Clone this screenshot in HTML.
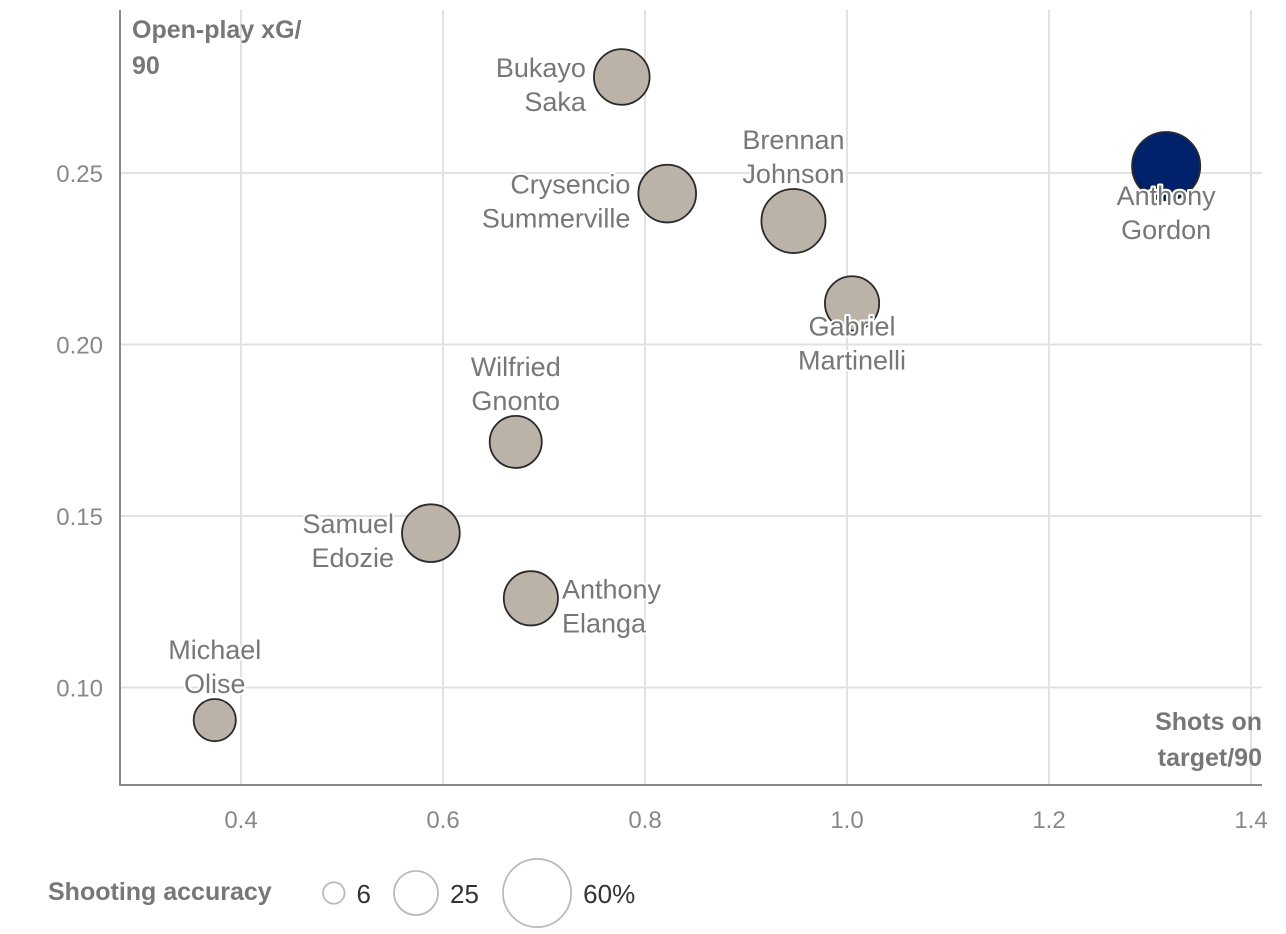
<!DOCTYPE html>
<html><head><meta charset="utf-8">
<style>
body{margin:0;background:#fff;}
svg{display:block;font-family:"Liberation Sans",sans-serif;}
.lbl{font-size:27px;fill:#777;stroke:#fff;stroke-width:4px;paint-order:stroke;stroke-linejoin:round;}
.tick{font-size:24px;fill:#888;}
.ttl{font-size:25px;fill:#777;font-weight:bold;}
</style></head>
<body>
<svg id="chart" width="1286" height="934" viewBox="0 0 1286 934"></svg>
<script>
const players=["Bukayo|Saka","Crysencio|Summerville","Brennan|Johnson","Gabriel|Martinelli","Anthony|Gordon","Wilfried|Gnonto","Samuel|Edozie","Anthony|Elanga","Michael|Olise"];
const shotsOnTarget=[0.777,0.822,0.947,1.005,1.316,0.672,0.588,0.687,0.374];
const openPlayXG=[0.278,0.244,0.236,0.212,0.252,0.1716,0.145,0.126,0.0905];
const accuracy=[40,43,53,38,60,35,43,38,23];
const labelPos=["left","left","top","bottom","bottom","top","left","right","top"];
const xTicks=[0.4,0.6,0.8,1.0,1.2,1.4];
const yTicks=[0.10,0.15,0.20,0.25];
const legendVals=[6,25,60];

const svg=document.getElementById('chart');
const NS='http://www.w3.org/2000/svg';
const X=v=>241+(v-0.4)*1010;
const Y=v=>173-(v-0.25)*3430;
const R=v=>4.4*Math.sqrt(v);
function el(t,a,p){const e=document.createElementNS(NS,t);for(const k in a)e.setAttribute(k,a[k]);(p||svg).appendChild(e);return e;}

xTicks.forEach(t=>{
  const g=el('line',{x1:X(t),x2:X(t),y1:10,y2:785,stroke:'#e2e2e2','stroke-width':2});
  
  
  const tx=el('text',{x:X(t),y:828,'text-anchor':'middle',class:'tick'});
  tx.textContent=t.toFixed(1);
  
  
});
yTicks.forEach(t=>{
  const g=el('line',{x1:120,x2:1262,y1:Y(t),y2:Y(t),stroke:'#e2e2e2','stroke-width':2});
  
  
  const tx=el('text',{x:103,y:Y(t)+9,'text-anchor':'end',class:'tick'});
  tx.textContent=t.toFixed(2);
  
  
});
const ya=el('line',{x1:120,x2:120,y1:10,y2:786,stroke:'#888','stroke-width':2});


const xa=el('line',{x1:119,x2:1262,y1:785,y2:785,stroke:'#888','stroke-width':2});



const circles=el('g',{});
const labels=el('g',{});
players.forEach((p,i)=>{
  const cx=X(shotsOnTarget[i]),cy=Y(openPlayXG[i]),r=R(accuracy[i]);
  const c=el('circle',{cx,cy,r,fill:i===4?'#00226b':'#bbb3a8',stroke:'#2a2a2a','stroke-width':1.8},circles);
  
  
  const [a,b]=p.split('|');
  let tx,ty,anchor;
  const pos=labelPos[i];
  if(pos==='left'){tx=cx-r-8;ty=cy;anchor='end';}
  else if(pos==='right'){tx=cx+r+4;ty=cy;anchor='start';}
  else if(pos==='top'){tx=cx;ty=cy-r-40;anchor='middle';}
  else {tx=cx;ty=cy+r+5;anchor='middle';}
  const t=el('text',{x:tx,y:ty,'text-anchor':anchor,class:'lbl'},labels);
  
  
  const s1=el('tspan',{x:tx,dy:0},t);s1.textContent=a;
  const s2=el('tspan',{x:tx,dy:34},t);s2.textContent=b;
});

const yt=el('text',{x:132,y:38,class:'ttl'});


el('tspan',{x:132,dy:0},yt).textContent='Open-play xG/';
el('tspan',{x:132,dy:36},yt).textContent='90';
const xt=el('text',{x:1262,y:730,class:'ttl','text-anchor':'end'});


el('tspan',{x:1262,dy:0},xt).textContent='Shots on';
el('tspan',{x:1262,dy:36},xt).textContent='target/90';

const lt=el('text',{x:48,y:900,class:'ttl'});
lt.textContent='Shooting accuracy';


const legendStart=[323,394,503];
legendVals.forEach((v,i)=>{
  const r=R(v);
  const lx=legendStart[i];
  const c=el('circle',{cx:lx+r,cy:893,r,fill:'none',stroke:'#bbb','stroke-width':1.8});
  
  
  const t=el('text',{x:lx+2*r+12,y:903,style:'font-size:26px;fill:#333'});
  t.textContent=v+(i===legendVals.length-1?'%':'');
  
  
});
</script>
</body></html>
